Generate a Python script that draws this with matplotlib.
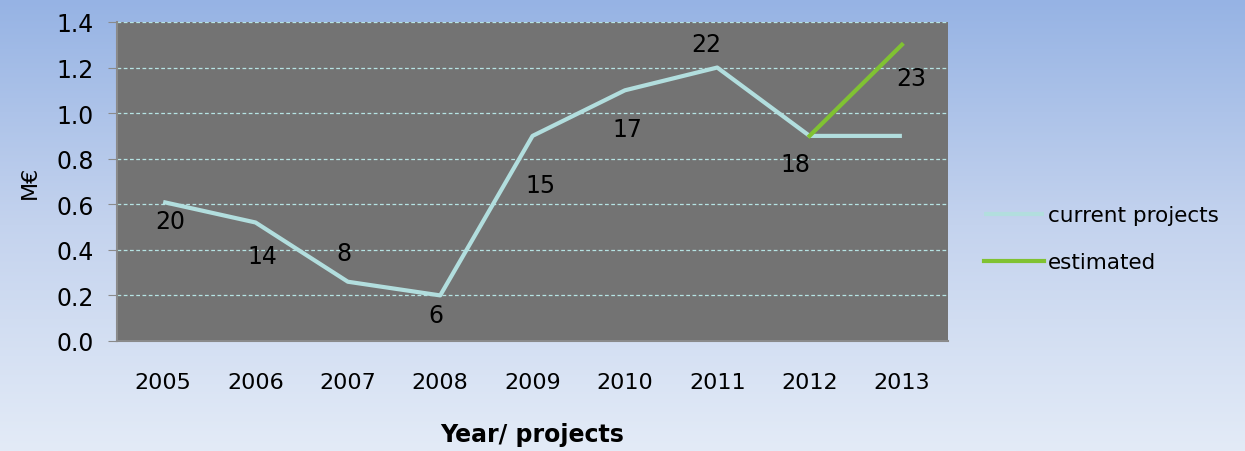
import numpy as np
import matplotlib.pyplot as plt
from matplotlib.colors import LinearSegmentedColormap

years = ['2005', '2006', '2007', '2008', '2009', '2010', '2011', '2012', '2013']
current = [0.61, 0.52, 0.26, 0.20, 0.90, 1.10, 1.20, 0.90, 0.90]
estimated_years = ['2012', '2013']
estimated = [0.90, 1.30]
projects = [20, 14, 8, 6, 15, 17, 22, 18, 23]
# label offsets in points (x, y) relative to each point
offsets = [(5, -14), (5, -24), (-3, 21), (-3, -14), (6, -35), (2, -28), (-8, 17), (-10, -20), (7, -24)]

fig = plt.figure(figsize=(12.45, 4.52), dpi=100)

# gradient background
bg = fig.add_axes([0, 0, 1, 1], zorder=-10)
cmap = LinearSegmentedColormap.from_list('bg', ['#96b3e4', '#c4d3ee', '#e3ebf7'])
grad = np.linspace(0, 1, 256).reshape(-1, 1)
bg.imshow(grad, aspect='auto', cmap=cmap, extent=[0, 1, 0, 1])
bg.axis('off')

ax = fig.add_axes([0.094, 0.2434, 0.6675, 0.7058])
ax.set_facecolor('#737373')
x = np.arange(len(years))
ax.plot(x, current, color='#b2dede', lw=3, label='current projects', solid_capstyle='butt', zorder=3)
xe = [years.index(y) for y in estimated_years]
ax.plot(xe, estimated, color='#80c232', lw=3, label='estimated', zorder=4)

for i, n in enumerate(projects):
    yv = estimated[-1] if i == len(projects) - 1 else current[i]
    ax.annotate(str(n), (x[i], yv), xytext=offsets[i], textcoords='offset points',
                ha='center', va='center', fontsize=17, color='black', zorder=5)

ax.set_xlim(-0.5, len(years) - 0.5)
ax.set_ylim(0, 1.4)
ax.set_yticks(np.arange(0, 1.41, 0.2))
ax.set_yticklabels(['%.1f' % v for v in np.arange(0, 1.41, 0.2)])
ax.set_xticks(x)
ax.set_xticklabels(years)
ax.tick_params(axis='y', length=6.5, color='#8a8a8a', labelsize=17, pad=10)
ax.tick_params(axis='x', length=0, labelsize=16, pad=22)
ax.yaxis.grid(True, color='#b6e4e4', linestyle=(0, (3, 2)), lw=0.9)
ax.set_axisbelow(True)
for s in ['top', 'right']:
    ax.spines[s].set_visible(False)
for s in ['left', 'bottom']:
    ax.spines[s].set_color('#8a8a8a')
    ax.spines[s].set_linewidth(1.5)

ax.set_ylabel('M€', fontsize=16, labelpad=12)
ax.set_xlabel('Year/ projects', fontsize=17, fontweight='bold', labelpad=22)

leg = ax.legend(loc='center left', bbox_to_anchor=(1.02, 0.32), frameon=False,
                fontsize=15.5, handlelength=2.8, handletextpad=0.15, labelspacing=1.25)

fig.savefig('out.png', dpi=100)
